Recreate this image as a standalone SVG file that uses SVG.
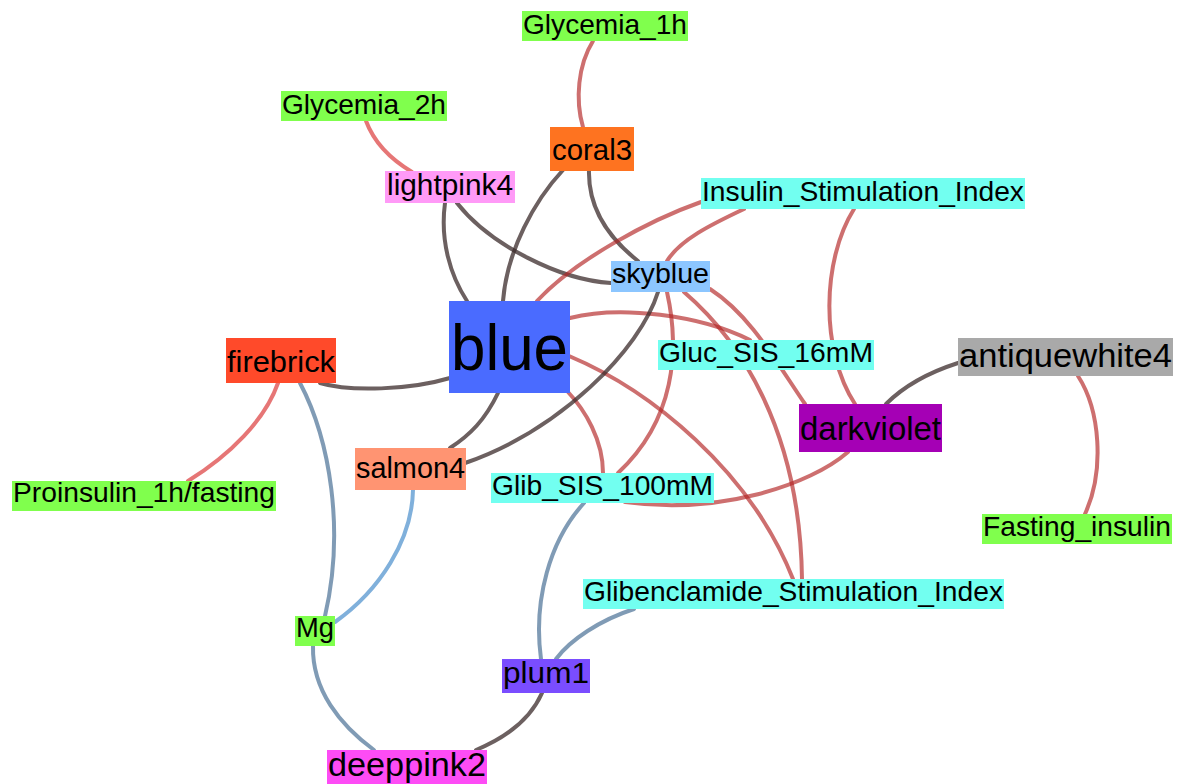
<svg xmlns="http://www.w3.org/2000/svg" width="1177" height="784" viewBox="0 0 1177 784">
<style>
text{font-family:"Liberation Sans",Arial,sans-serif;fill:#000;text-anchor:middle}
.e{fill:none;stroke-width:4;stroke-linecap:round}
.r{stroke:#b22222;stroke-opacity:.65}
.r2{stroke:#dc3c3c;stroke-opacity:.7}
.d{stroke:#3b2b2b;stroke-opacity:.75}
.b{stroke:#4a7195;stroke-opacity:.7}
.lb{stroke:#4a8fcc;stroke-opacity:.7}
.g{fill:#80ff4d}.c{fill:#72fff0}
</style>
<g id="edges">
<path class="e r" d="M593,41 C578,65 575,100 583,127"/>
<path class="e r2" d="M366,121 C375,145 392,160 412,172"/>
<path class="e d" d="M563,170 C535,200 507,250 503,301"/>
<path class="e d" d="M589,170 C588,205 605,235 638,261"/>
<path class="e d" d="M445,203 C440,240 450,275 467,301"/>
<path class="e d" d="M457,203 C490,245 560,280 611,283"/>
<path class="e r" d="M701,202 C650,220 575,260 537,301"/>
<path class="e r" d="M744,209 C710,225 680,240 667,261"/>
<path class="e r" d="M854,209 C822,260 820,350 855,404"/>
<path class="e r" d="M570,318 C620,305 700,315 750,340"/>
<path class="e r" d="M684,292 C740,340 800,430 802,579"/>
<path class="e r" d="M710,289 C750,315 775,360 805,404"/>
<path class="e r" d="M569,356 C650,390 750,470 793,579"/>
<path class="e r" d="M568,392 C585,410 603,440 603,473"/>
<path class="e r" d="M667,292 C680,350 675,420 618,473"/>
<path class="e r" d="M848,452 C810,485 720,515 625,502"/>
<path class="e d" d="M658,292 C640,350 560,430 465,463"/>
<path class="e d" d="M498,393 C485,420 470,435 450,448"/>
<path class="e d" d="M320,383 C350,392 410,390 450,378"/>
<path class="e r2" d="M278,383 C265,420 230,455 188,481"/>
<path class="e b" d="M300,383 C330,440 345,530 325,616"/>
<path class="e lb" d="M413,490 C412,540 380,590 335,622"/>
<path class="e b" d="M313,646 C312,690 340,725 374,750"/>
<path class="e b" d="M584,503 C550,540 533,600 541,659"/>
<path class="e b" d="M634,609 C600,620 570,640 556,659"/>
<path class="e d" d="M542,693 C530,720 505,738 476,750"/>
<path class="e d" d="M886,404 C905,385 930,372 958,363"/>
<path class="e r" d="M1078,376 C1100,410 1105,470 1085,514"/>
</g>
<g id="n-Glycemia_1h"><rect class="g" x="522" y="11" width="166" height="30"/><text x="605" y="34" font-size="28" textLength="164" lengthAdjust="spacingAndGlyphs">Glycemia_1h</text></g>
<g id="n-Glycemia_2h"><rect class="g" x="281" y="91" width="166" height="30"/><text x="364" y="114" font-size="28" textLength="164" lengthAdjust="spacingAndGlyphs">Glycemia_2h</text></g>
<g id="n-coral3"><rect fill="#fe7320" x="550" y="127" width="84" height="44"/><text x="592" y="160" font-size="30" textLength="80" lengthAdjust="spacingAndGlyphs">coral3</text></g>
<g id="n-lightpink4"><rect fill="#ff9af7" x="385" y="171" width="130" height="32"/><text x="450" y="195" font-size="29" textLength="126" lengthAdjust="spacingAndGlyphs">lightpink4</text></g>
<g id="n-Insulin_Stimulation_Index"><rect class="c" x="701" y="178" width="324" height="31"/><text x="863" y="201" font-size="28" textLength="322" lengthAdjust="spacingAndGlyphs">Insulin_Stimulation_Index</text></g>
<g id="n-skyblue"><rect fill="#8cc6ff" x="611" y="261" width="99" height="31"/><text x="660.5" y="283" font-size="28" textLength="97" lengthAdjust="spacingAndGlyphs">skyblue</text></g>
<g id="n-blue"><rect fill="#4a6bff" x="449" y="301" width="121" height="92"/><text x="509.5" y="370" font-size="64" textLength="117" lengthAdjust="spacingAndGlyphs">blue</text></g>
<g id="n-firebrick"><rect fill="#ff4a2a" x="226" y="338" width="110" height="45"/><text x="281" y="372" font-size="30" textLength="108" lengthAdjust="spacingAndGlyphs">firebrick</text></g>
<g id="n-Gluc_SIS_16mM"><rect class="c" x="658" y="340" width="216" height="30"/><text x="766" y="362" font-size="28" textLength="214" lengthAdjust="spacingAndGlyphs">Gluc_SIS_16mM</text></g>
<g id="n-antiquewhite4"><rect fill="#a9a9a9" x="958" y="338" width="215" height="38"/><text x="1065.5" y="367" font-size="34" textLength="213" lengthAdjust="spacingAndGlyphs">antiquewhite4</text></g>
<g id="n-darkviolet"><rect fill="#a500b5" x="799" y="404" width="143" height="48"/><text x="870.5" y="440" font-size="33" textLength="141" lengthAdjust="spacingAndGlyphs">darkviolet</text></g>
<g id="n-salmon4"><rect fill="#ff9472" x="355" y="448" width="111" height="42"/><text x="410.5" y="478" font-size="29" textLength="109" lengthAdjust="spacingAndGlyphs">salmon4</text></g>
<g id="n-Glib_SIS_100mM"><rect class="c" x="491" y="473" width="223" height="30"/><text x="602.5" y="495" font-size="28" textLength="221" lengthAdjust="spacingAndGlyphs">Glib_SIS_100mM</text></g>
<g id="n-Proinsulin_1h_fasting"><rect class="g" x="12" y="481" width="264" height="30"/><text x="144" y="502" font-size="28" textLength="262" lengthAdjust="spacingAndGlyphs">Proinsulin_1h/fasting</text></g>
<g id="n-Fasting_insulin"><rect class="g" x="982" y="514" width="190" height="30"/><text x="1077" y="536" font-size="28" textLength="188" lengthAdjust="spacingAndGlyphs">Fasting_insulin</text></g>
<g id="n-Glibenclamide_Stimulation_Index"><rect class="c" x="583" y="579" width="421" height="30"/><text x="793.5" y="601" font-size="28" textLength="419" lengthAdjust="spacingAndGlyphs">Glibenclamide_Stimulation_Index</text></g>
<g id="n-Mg"><rect class="g" x="295" y="616" width="40" height="30"/><text x="315" y="637" font-size="28" textLength="38" lengthAdjust="spacingAndGlyphs">Mg</text></g>
<g id="n-plum1"><rect fill="#7a4dff" x="502" y="659" width="88" height="34"/><text x="546" y="683" font-size="30" textLength="86" lengthAdjust="spacingAndGlyphs">plum1</text></g>
<g id="n-deeppink2"><rect fill="#fd4cf5" x="327" y="750" width="160" height="34"/><text x="407" y="776" font-size="33" textLength="158" lengthAdjust="spacingAndGlyphs">deeppink2</text></g>
</svg>
